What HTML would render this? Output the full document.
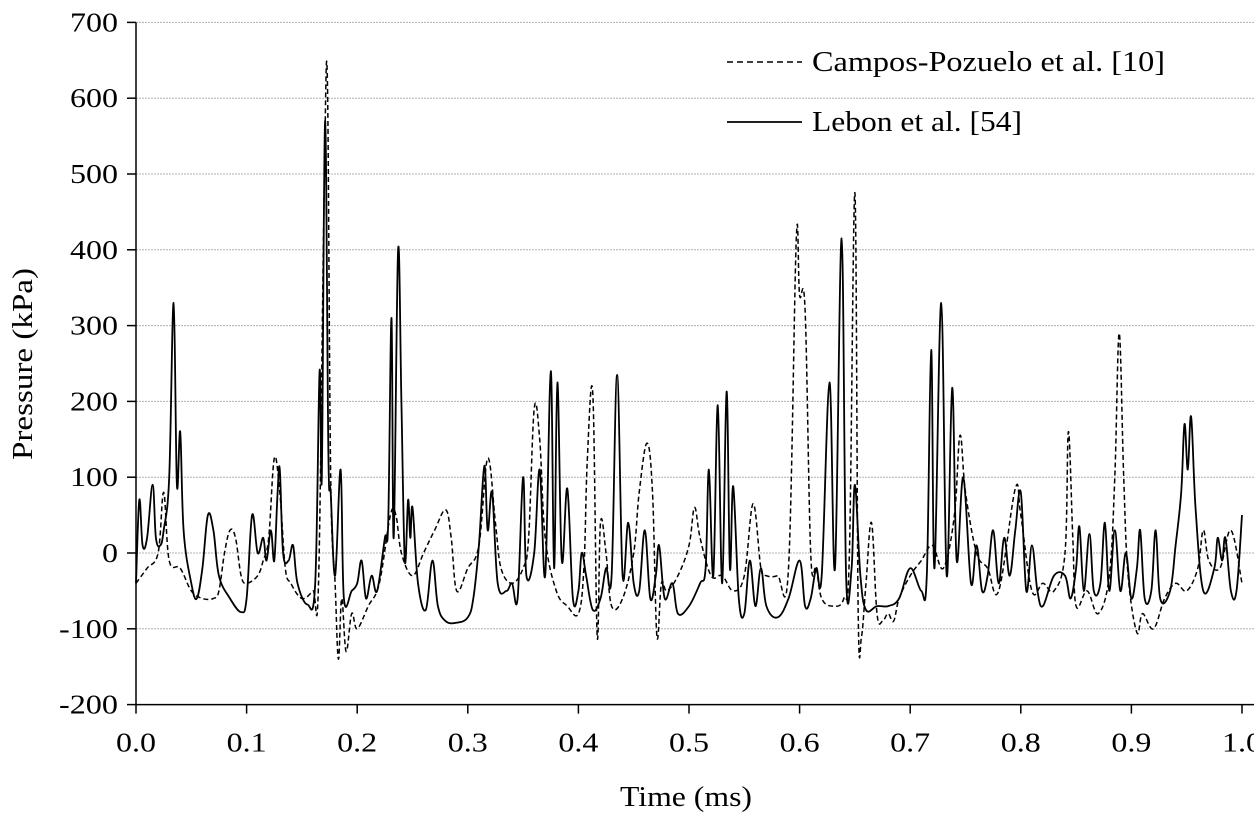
<!DOCTYPE html>
<html><head><meta charset="utf-8"><style>
html,body{margin:0;padding:0;background:#fff}
svg text{font-family:"Liberation Serif",serif;fill:#000}
</style></head><body>
<svg width="1254" height="813" viewBox="0 0 1254 813">
<g id="grid"></g><g id="axes"></g><g id="series"></g>
<text x="686" y="806" font-size="28" text-anchor="middle" textLength="132" lengthAdjust="spacingAndGlyphs">Time (ms)</text>
<text transform="translate(32,364) rotate(-90)" font-size="28" text-anchor="middle" textLength="192" lengthAdjust="spacingAndGlyphs">Pressure (kPa)</text>
<g>
<line x1="727" y1="62" x2="802" y2="62" stroke="#000" stroke-width="1.6" stroke-dasharray="6,4"/>
<text x="812" y="71" font-size="29" textLength="353" lengthAdjust="spacingAndGlyphs">Campos-Pozuelo et al. [10]</text>
<line x1="727" y1="122" x2="802" y2="122" stroke="#000" stroke-width="1.8"/>
<text x="812" y="131" font-size="29" textLength="210" lengthAdjust="spacingAndGlyphs">Lebon et al. [54]</text>
</g>
</svg>
<script>
const xTicks=[0,0.1,0.2,0.3,0.4,0.5,0.6,0.7,0.8,0.9,1.0];
const yTicks=[-200,-100,0,100,200,300,400,500,600,700];
const lebonT=[0,0.003,0.006,0.01,0.015,0.018,0.022,0.025,0.03,0.034,0.037,0.04,0.043,0.05,0.055,0.06,0.065,0.07,0.075,0.085,0.095,0.1,0.105,0.11,0.115,0.118,0.122,0.125,0.128,0.13,0.133,0.138,0.142,0.146,0.155,0.162,0.166,0.168,0.171,0.174,0.176,0.18,0.185,0.188,0.195,0.2,0.204,0.208,0.213,0.218,0.225,0.228,0.231,0.233,0.237,0.24,0.243,0.246,0.248,0.25,0.255,0.262,0.268,0.273,0.28,0.29,0.3,0.305,0.31,0.315,0.318,0.322,0.327,0.335,0.34,0.345,0.35,0.353,0.36,0.365,0.37,0.375,0.378,0.381,0.385,0.39,0.395,0.4,0.403,0.407,0.413,0.42,0.425,0.43,0.435,0.44,0.445,0.45,0.455,0.46,0.465,0.47,0.473,0.478,0.485,0.49,0.5,0.51,0.515,0.518,0.522,0.526,0.53,0.534,0.537,0.54,0.545,0.55,0.555,0.56,0.565,0.57,0.58,0.59,0.6,0.605,0.61,0.615,0.62,0.627,0.632,0.638,0.642,0.647,0.65,0.655,0.66,0.67,0.68,0.69,0.7,0.71,0.715,0.719,0.722,0.728,0.733,0.738,0.742,0.748,0.755,0.76,0.765,0.77,0.775,0.78,0.785,0.79,0.795,0.8,0.805,0.81,0.815,0.82,0.83,0.84,0.845,0.85,0.853,0.857,0.862,0.866,0.872,0.876,0.88,0.885,0.89,0.895,0.9,0.905,0.908,0.912,0.918,0.922,0.926,0.935,0.94,0.945,0.948,0.951,0.954,0.958,0.965,0.975,0.978,0.982,0.985,0.99,0.995,1.0];
const lebonP=[-40,70,10,20,90,20,10,30,100,330,90,160,30,-40,-60,-20,50,30,-30,-60,-78,-60,50,0,20,-10,30,-10,80,110,0,-10,10,-40,-68,-40,240,100,570,130,80,-30,110,-60,-50,-40,-10,-60,-30,-50,20,40,310,20,400,200,-10,70,20,60,-40,-75,-10,-70,-90,-92,-85,-60,10,115,30,80,-40,-50,-40,-60,100,-30,0,110,-30,240,-20,225,-10,85,-60,-50,0,-30,-75,-60,-20,-30,235,-30,40,-40,-50,30,-60,-30,10,-60,-40,-80,-70,-40,-20,110,-30,195,-40,213,-20,88,-60,-80,-10,-70,-20,-70,-85,-60,-10,-70,-60,-20,-30,225,-20,415,-30,-20,90,-30,-75,-70,-70,-60,-20,-50,-30,268,-20,330,-30,218,-10,100,-40,10,-50,-30,30,-40,20,-30,30,80,-50,10,-50,-70,-30,-30,-60,-20,35,-50,25,-50,-40,40,-50,30,-50,0,-60,-20,30,-60,-50,30,-60,-50,10,80,170,110,180,60,-50,-20,20,-10,20,-50,-50,50];
const camposT=[0,0.01,0.02,0.025,0.03,0.04,0.05,0.06,0.07,0.075,0.08,0.085,0.09,0.095,0.1,0.11,0.115,0.12,0.125,0.13,0.135,0.14,0.15,0.16,0.165,0.17,0.173,0.176,0.18,0.183,0.186,0.19,0.195,0.2,0.21,0.22,0.23,0.235,0.24,0.25,0.26,0.27,0.28,0.285,0.29,0.3,0.31,0.318,0.325,0.33,0.34,0.35,0.355,0.36,0.365,0.37,0.38,0.39,0.4,0.405,0.408,0.413,0.417,0.42,0.425,0.43,0.44,0.45,0.455,0.462,0.467,0.471,0.475,0.48,0.49,0.5,0.505,0.51,0.52,0.53,0.54,0.55,0.558,0.565,0.57,0.58,0.59,0.597,0.6,0.605,0.61,0.615,0.62,0.63,0.64,0.645,0.65,0.653,0.656,0.66,0.665,0.67,0.675,0.68,0.685,0.69,0.7,0.71,0.72,0.73,0.74,0.745,0.75,0.76,0.77,0.78,0.795,0.8,0.81,0.82,0.83,0.84,0.843,0.847,0.85,0.86,0.87,0.88,0.885,0.889,0.893,0.897,0.905,0.91,0.92,0.93,0.94,0.95,0.96,0.965,0.97,0.98,0.99,1.0];
const camposP=[-40,-20,0,80,-10,-20,-50,-60,-60,-50,0,30,20,-30,-40,-30,-10,20,125,80,-20,-40,-60,-50,-40,460,630,100,-40,-140,-60,-130,-80,-100,-70,-40,50,50,0,-30,0,30,57,20,-50,-20,10,125,40,-20,-40,-20,20,190,150,20,-50,-70,-80,-20,120,210,-110,40,0,-70,-60,0,80,145,80,-110,-40,-50,-30,10,60,20,-30,-30,-50,-30,65,-20,-30,-30,-20,415,340,320,0,-20,-60,-70,-60,0,475,-80,-110,-40,40,-80,-90,-80,-90,-60,-30,-10,10,-20,50,155,80,0,-20,-50,85,50,-50,-40,-50,0,160,20,-70,-50,-80,-30,100,290,100,-30,-105,-80,-100,-60,-40,-50,-20,30,-10,-20,30,-40];
const X0=136,X1=1242,Y0=553,PER100=75.8;
const sx=t=>X0+(X1-X0)*t;
const sy=v=>Y0-v*PER100/100;
const NS='http://www.w3.org/2000/svg';
function mk(tag,attrs,parent){const e=document.createElementNS(NS,tag);for(const k in attrs)e.setAttribute(k,attrs[k]);parent.appendChild(e);return e;}
function tw(s){let w=0;for(const c of s)w+=(c==='.'?8:c==='-'?11:16);return w;}
const grid=document.getElementById('grid'),axes=document.getElementById('axes'),ser=document.getElementById('series');
yTicks.forEach(v=>{
 if(v!==-200){const g=mk('line',{x1:X0,x2:1254,y1:sy(v),y2:sy(v),stroke:'#b0b0b0','stroke-width':1,'stroke-dasharray':'2,1'},grid);
 
 }
 const tk=mk('line',{x1:X0-9,x2:X0,y1:sy(v),y2:sy(v),stroke:'#000','stroke-width':1.5},axes);
 
 
 const s=String(v);
 const t=mk('text',{x:X0-18,y:sy(v)+9,'font-size':27,'text-anchor':'end',textLength:tw(s),lengthAdjust:'spacingAndGlyphs'},axes);t.textContent=s;
 
 
});
const ya=mk('line',{x1:X0,x2:X0,y1:sy(700),y2:sy(-200),stroke:'#000','stroke-width':1.5},axes);


const xa=mk('line',{x1:X0,x2:1254,y1:sy(-200),y2:sy(-200),stroke:'#000','stroke-width':1.5},axes);


xTicks.forEach(v=>{
 const tk=mk('line',{x1:sx(v),x2:sx(v),y1:sy(-200),y2:sy(-200)+9,stroke:'#000','stroke-width':1.5},axes);
 
 
 const s=v.toFixed(1);
 const t=mk('text',{x:sx(v),y:sy(-200)+47,'font-size':27,'text-anchor':'middle',textLength:tw(s),lengthAdjust:'spacingAndGlyphs'},axes);t.textContent=s;
 
 
});
function pathOf(T,P){
 const pts=T.map((t,i)=>[sx(t),sy(P[i])]);
 let d='M'+pts[0][0].toFixed(1)+','+pts[0][1].toFixed(1);
 const k=0.18;
 for(let i=0;i<pts.length-1;i++){
  const p0=pts[Math.max(0,i-1)],p1=pts[i],p2=pts[i+1],p3=pts[Math.min(pts.length-1,i+2)];
  const c1=[p1[0]+(p2[0]-p0[0])*k,p1[1]+(p2[1]-p0[1])*k];
  const c2=[p2[0]-(p3[0]-p1[0])*k,p2[1]-(p3[1]-p1[1])*k];
  d+='C'+c1[0].toFixed(1)+','+c1[1].toFixed(1)+' '+c2[0].toFixed(1)+','+c2[1].toFixed(1)+' '+p2[0].toFixed(1)+','+p2[1].toFixed(1);
 }
 return d;
}
const pc=mk('path',{d:pathOf(camposT,camposP),fill:'none',stroke:'#000','stroke-width':1.5,'stroke-dasharray':'5,3','stroke-linejoin':'round'},ser);


const pl=mk('path',{d:pathOf(lebonT,lebonP),fill:'none',stroke:'#000','stroke-width':1.8,'stroke-linejoin':'round'},ser);


</script>
</body></html>
